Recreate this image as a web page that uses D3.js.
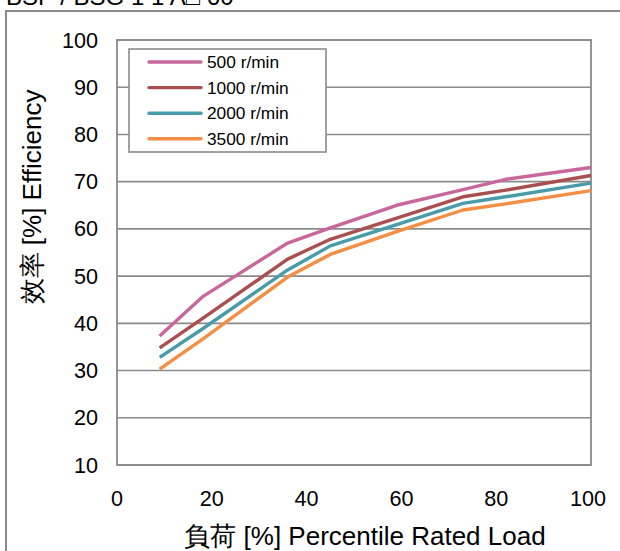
<!DOCTYPE html>
<html><head><meta charset="utf-8">
<script src="https://cdn.jsdelivr.net/npm/d3@7"></script>
<style>body{margin:0;background:#fff}svg{display:block}</style>
</head><body>
<svg id="c" width="620" height="551"></svg>
<script>
const loads = [9, 18, 36, 45, 59, 73, 82, 100];
const seriesNames = ["500 r/min", "1000 r/min", "2000 r/min", "3500 r/min"];
const eff500  = [37.3, 45.6, 57.0, 60.2, 65.0, 68.3, 70.5, 73.0];
const eff1000 = [34.8, 41.0, 53.6, 57.8, 62.3, 66.8, 68.2, 71.3];
const eff2000 = [32.8, 38.8, 51.3, 56.4, 60.9, 65.4, 66.8, 69.7];
const eff3500 = [30.3, 36.6, 49.8, 54.6, 59.4, 64.0, 65.3, 68.1];
const colors = ["#C7679B", "#A94F50", "#4A9BA9", "#F48E44"];
const xTicks = [0, 20, 40, 60, 80, 100];
const yTicks = [10, 20, 30, 40, 50, 60, 70, 80, 90, 100];

const svg = d3.select("#c");
const font = "Liberation Sans, Arial, sans-serif";
const grey = "#8a8a8a";

// partially clipped title (cut off at the top in the reference)
svg.append("text").attr("x", 6).attr("y", 5).attr("font-family", font)
  .attr("font-size", 24).attr("fill", "#000").text("BSP / BSG 1 1 A□ 60");

// outer frame
svg.append("rect").attr("x", 6).attr("y", 11).attr("width", 700).attr("height", 700)
  .attr("fill", "none").attr("stroke", grey).attr("stroke-width", 2);

const x = d3.scaleLinear().domain([0, 100]).range([117, 591]);
const y = d3.scaleLinear().domain([10, 100]).range([465, 40]);

// gridlines
svg.append("g").selectAll("line").data(yTicks).join("line")
  .attr("x1", x(0)).attr("x2", x(100))
  .attr("y1", d => y(d)).attr("y2", d => y(d))
  .attr("stroke", grey).attr("stroke-width", 1.6);

// plot border
svg.append("rect").attr("x", x(0)).attr("y", y(100))
  .attr("width", x(100) - x(0)).attr("height", y(10) - y(100))
  .attr("fill", "none").attr("stroke", grey).attr("stroke-width", 1.8);

// y tick labels
svg.append("g").selectAll("text").data(yTicks).join("text")
  .attr("x", 98).attr("y", d => y(d)).attr("dy", "0.35em")
  .attr("text-anchor", "end").attr("font-family", font).attr("font-size", 21.6)
  .text(d => d);

// x tick labels
svg.append("g").selectAll("text").data(xTicks).join("text")
  .attr("x", d => x(d) - (d === 100 ? 3 : 0)).attr("y", 498).attr("dy", "0.35em")
  .attr("text-anchor", "middle").attr("font-family", font).attr("font-size", 21.6)
  .text(d => d);

// axis titles
svg.append("text").attr("x", 365).attr("y", 536).attr("dy", "0.35em")
  .attr("text-anchor", "middle").attr("font-family", font).attr("font-size", 26)
  .text("負荷 [%] Percentile Rated Load");
svg.append("text").attr("transform", "translate(32,197) rotate(-90)").attr("dy", "0.35em")
  .attr("text-anchor", "middle").attr("font-family", font).attr("font-size", 26)
  .text("效率 [%] Efficiency");

// lines
const data = [eff500, eff1000, eff2000, eff3500];
const line = d3.line().x((d, i) => x(loads[i])).y(d => y(d));
svg.append("g").selectAll("path").data(data).join("path")
  .attr("d", line).attr("fill", "none")
  .attr("stroke", (d, i) => colors[i]).attr("stroke-width", 3.4)
  .attr("stroke-linejoin", "round");

// legend
const lg = svg.append("g");
lg.append("rect").attr("x", 129).attr("y", 49).attr("width", 197).attr("height", 103)
  .attr("fill", "#fff").attr("stroke", grey).attr("stroke-width", 1.6);
const items = lg.selectAll("g").data(seriesNames).join("g")
  .attr("transform", (d, i) => `translate(0,${62 + i * 25.6})`);
items.append("line").attr("x1", 149).attr("x2", 201).attr("y1", 0).attr("y2", 0)
  .attr("stroke", (d, i) => colors[i]).attr("stroke-width", 3.4).attr("stroke-linecap", "round");
items.append("text").attr("x", 207).attr("y", 0).attr("dy", "0.35em")
  .attr("font-family", font).attr("font-size", 17.3).text(d => d);
</script>
</body></html>
